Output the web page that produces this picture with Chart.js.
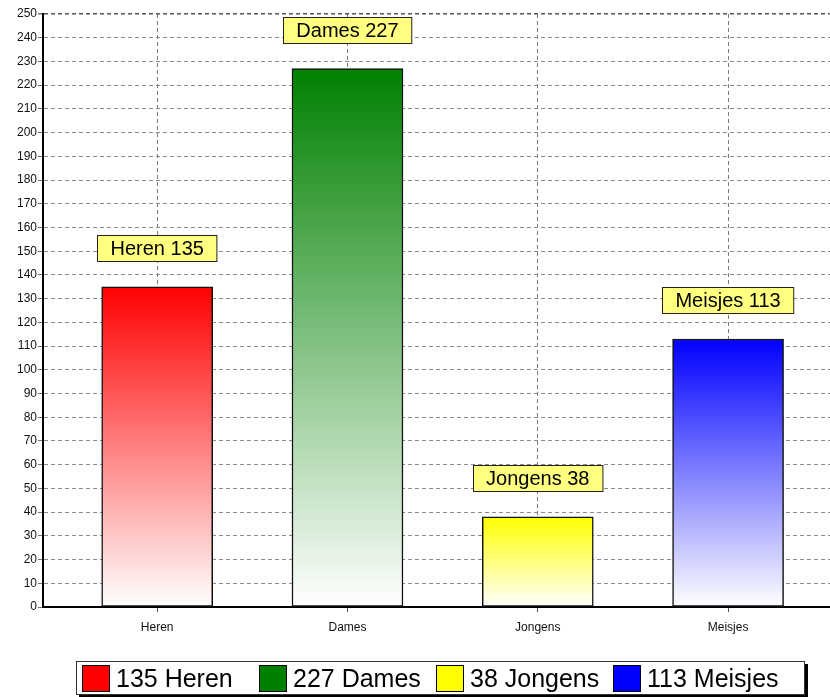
<!DOCTYPE html>
<html>
<head>
<meta charset="utf-8">
<script src="https://cdn.jsdelivr.net/npm/chart.js@4"></script>
<style>
  html, body { margin: 0; padding: 0; background: #fff; overflow: hidden; }
  #wrap { position: relative; width: 830px; height: 697px; }
</style>
</head>
<body>
<div id="wrap"><canvas id="c" width="830" height="697"></canvas></div>
<script>
// ---- data ----
const categories = ["Heren", "Dames", "Jongens", "Meisjes"];
const values = [135, 227, 38, 113];
const topColors = ["#ff0000", "#008000", "#ffff00", "#0000ff"];
const bottomColor = "#ffffff";
const yMax = 250;
const yStep = 10;

const FONT = "'Liberation Sans', Arial, sans-serif";

// gradient fill per bar from value pixel to base pixel
function barGradient(ctx) {
  const chart = ctx.chart;
  const y = chart.scales.y;
  if (!y || ctx.dataIndex === undefined) return topColors[0];
  const v = values[ctx.dataIndex];
  const top = y.getPixelForValue(v);
  const base = y.getPixelForValue(0);
  if (!isFinite(top) || !isFinite(base)) return topColors[ctx.dataIndex];
  const g = chart.ctx.createLinearGradient(0, top, 0, base);
  g.addColorStop(0, topColors[ctx.dataIndex]);
  g.addColorStop(1, bottomColor);
  return g;
}

// value labels (yellow boxes) above bars
const valueLabels = {
  id: 'valueLabels',
  afterDatasetsDraw(chart) {
    const ctx = chart.ctx;
    const meta = chart.getDatasetMeta(0);
    ctx.save();
    ctx.font = "20px " + FONT;
    ctx.textAlign = 'center';
    ctx.textBaseline = 'middle';
    meta.data.forEach((bar, i) => {
      const text = categories[i] + " " + values[i];
      const w = ctx.measureText(text).width + 26;
      const h = 26;
      const x = Math.round(bar.x - w / 2) + 0.5;
      const yb = Math.round(bar.y - 26) + 0.5;
      ctx.fillStyle = '#ffff80';
      ctx.fillRect(x, yb - h, w, h);
      ctx.strokeStyle = '#222';
      ctx.lineWidth = 1;
      ctx.strokeRect(x, yb - h, w, h);
      ctx.fillStyle = '#000';
      ctx.fillText(text, bar.x, yb - h / 2 + 1);
    });
    ctx.restore();
  }
};

// legend box at the bottom
const bottomLegend = {
  id: 'bottomLegend',
  afterDraw(chart) {
    const ctx = chart.ctx;
    ctx.save();
    const L = 76, T = 661, R = 805, B = 695;
    ctx.fillStyle = '#000';
    ctx.fillRect(L + 3, T + 3, R - L, B - T);
    ctx.fillStyle = '#fff';
    ctx.fillRect(L, T, R - L, B - T);
    ctx.strokeStyle = '#333';
    ctx.lineWidth = 1;
    ctx.strokeRect(L + 0.5, T + 0.5, R - L - 1, B - T - 1);
    ctx.font = "25px " + FONT;
    ctx.textAlign = 'left';
    ctx.textBaseline = 'middle';
    categories.forEach((c, i) => {
      const bx = 82 + i * 177;
      ctx.fillStyle = topColors[i];
      ctx.fillRect(bx, 665, 28, 27);
      ctx.strokeStyle = '#000';
      ctx.strokeRect(bx + 0.5, 665.5, 27, 26);
      ctx.fillStyle = '#000';
      ctx.fillText(values[i] + " " + c, bx + 34, 680);
    });
    ctx.restore();
  }
};

new Chart(document.getElementById('c'), {
  type: 'bar',
  data: {
    datasets: [{
      data: values.map((v, i) => ({ x: i, y: v })),
      backgroundColor: barGradient,
      borderColor: '#111',
      borderWidth: 1.5,
      borderSkipped: false,
      barThickness: 111
    }]
  },
  options: {
    responsive: false,
    animation: false,
    events: [],
    layout: { padding: { top: 14, left: 0, right: 0, bottom: 0 } },
    plugins: { legend: { display: false }, tooltip: { enabled: false } },
    scales: {
      x: {
        type: 'linear',
        offset: false,
        min: -0.6,
        max: 3.5356,
        afterBuildTicks(scale) { scale.ticks = categories.map((c, i) => ({ value: i })); },
        afterFit(scale) { scale.height = 90; },
        ticks: {
          callback: (v) => categories[v] ?? '',
          font: { family: FONT, size: 12 },
          color: '#111',
          padding: 8,
          maxRotation: 0,
          autoSkip: false
        },
        grid: {
          offset: false,
          color: '#7a7a7a',
          lineWidth: 1,
          tickLength: 5,
          tickColor: '#555',
          tickBorderDash: [],
          drawTicks: true
        },
        border: { display: true, color: '#000', width: 2, dash: [4, 3] },
      },
      y: {
        min: 0,
        max: yMax,
        afterFit(scale) { scale.width = 43; },
        ticks: {
          stepSize: yStep,
          font: { family: FONT, size: 12 },
          color: '#111',
          padding: 1
        },
        grid: {
          color: (c) => (c.tick && c.tick.value === yMax) ? '#555' : '#8a8a8a',
          lineWidth: (c) => (c.tick && c.tick.value === yMax) ? 1.5 : 1,
          tickLength: 5,
          tickColor: '#777',
          tickBorderDash: []
        },
        border: { display: true, color: '#000', width: 2, dash: [4, 3] }
      }
    }
  },
  plugins: [valueLabels, bottomLegend]
});
</script>
</body>
</html>
